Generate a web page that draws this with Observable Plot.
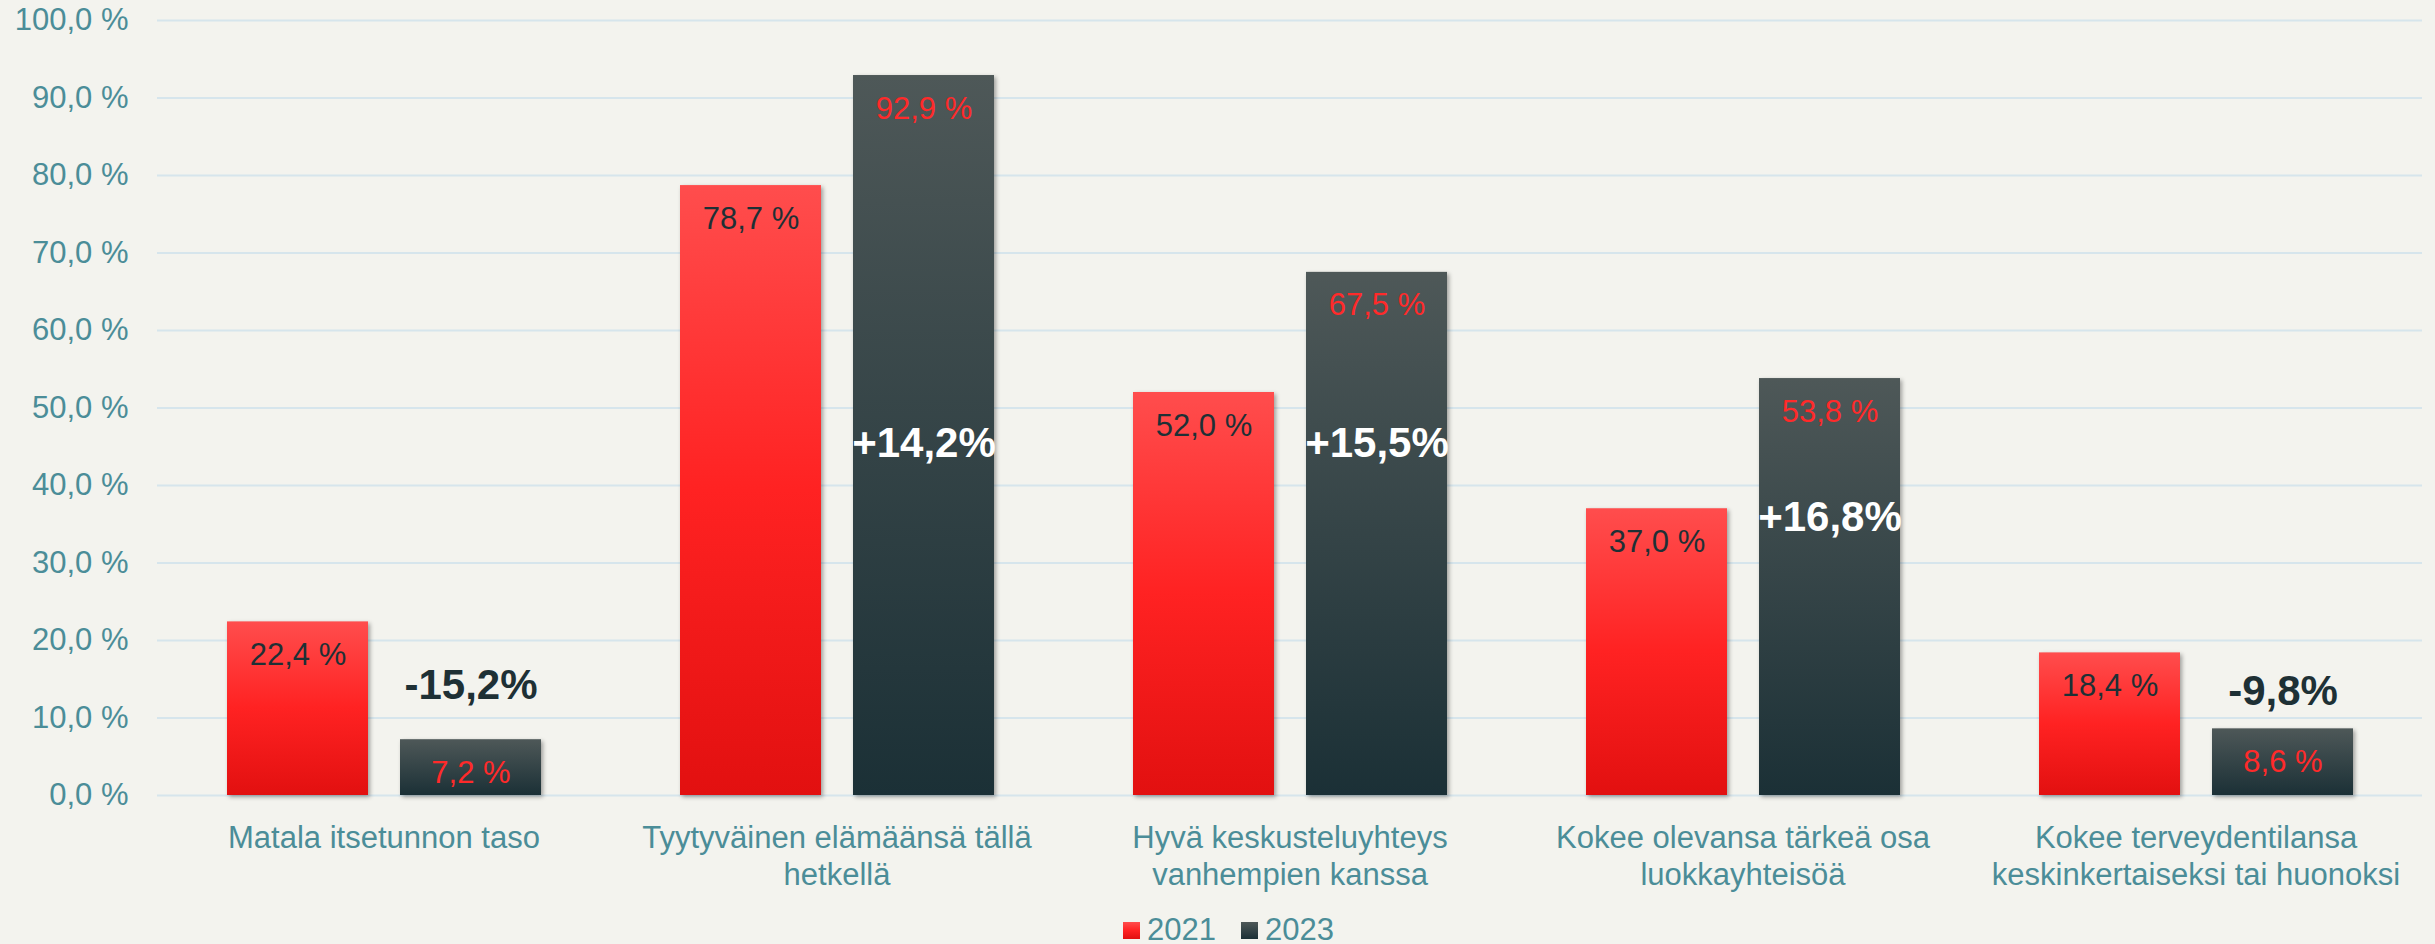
<!DOCTYPE html>
<html>
<head>
<meta charset="utf-8">
<script src="https://cdn.jsdelivr.net/npm/d3@7"></script>
<script src="https://cdn.jsdelivr.net/npm/@observablehq/plot@0.6"></script>
<style>
  html, body { margin: 0; padding: 0; background: #f3f3ee; overflow: hidden; }
  body { width: 2435px; height: 944px; position: relative; font-family: "Liberation Sans", Arial, sans-serif; }
  #chart svg { display: block; }
  #chart g[aria-label="bar"] rect { filter: drop-shadow(2px 2px 2px rgba(0,0,0,0.35)); }
  #legend { position: absolute; left: 1123px; top: 912px; display: flex; align-items: center; font-size: 31px; color: #4b8d98; white-space: nowrap; }
  #legend .sw { width: 17px; height: 17px; display: inline-block; margin-right: 7px; }
  #legend .item { display: flex; align-items: center; margin-right: 25px; }
</style>
</head>
<body>
<div id="chart"></div>
<div id="legend">
  <span class="item"><span class="sw" style="background: linear-gradient(#ff4d4d, #ff2222 50%, #e01010)"></span>2021</span>
  <span class="item"><span class="sw" style="background: linear-gradient(#4e5858, #1b3036)"></span>2023</span>
</div>
<script>
const categories = [
  "Matala itsetunnon taso",
  "Tyytyväinen elämäänsä tällä\nhetkellä",
  "Hyvä keskusteluyhteys\nvanhempien kanssa",
  "Kokee olevansa tärkeä osa\nluokkayhteisöä",
  "Kokee terveydentilansa\nkeskinkertaiseksi tai huonoksi"
];
const years = ["2021", "2023"];
const values2021 = [22.4, 78.7, 52.0, 37.0, 18.4];
const values2023 = [7.2, 92.9, 67.5, 53.8, 8.6];
const changeLabels = ["-15,2%", "+14,2%", "+15,5%", "+16,8%", "-9,8%"];
const changeLabelAt = [14.2, 45.4, 45.4, 35.9, 13.4];
const yTicks = [0, 10, 20, 30, 40, 50, 60, 70, 80, 90, 100];

const teal = "#4b8d98";
const dark = "#1e3035";
const red = "#ff2a2a";

const rows2021 = categories.map((c, i) => ({cat: c, year: years[0], value: values2021[i]}));
const rows2023 = categories.map((c, i) => ({cat: c, year: years[1], value: values2023[i]}));
const changes = categories.map((c, i) => ({cat: c, year: years[1], label: changeLabels[i], at: changeLabelAt[i]}));
const fmt = v => v.toFixed(1).replace(".", ",") + " %";

const chart = Plot.plot({
  width: 2435,
  height: 905,
  marginLeft: 157,
  marginRight: 13,
  marginTop: 20,
  marginBottom: 110,
  style: {background: "transparent", fontFamily: "'Liberation Sans', Arial, sans-serif", fontSize: "31px", overflow: "visible"},
  fx: {domain: categories, padding: 0, label: null},
  x: {domain: years, paddingInner: 0.185, paddingOuter: 0.4017, axis: null},
  y: {domain: [0, 100], label: null},
  marks: [
    Plot.ruleY(yTicks, {stroke: "#d6e5ec", strokeWidth: 2}),
    Plot.axisY({ticks: yTicks, tickFormat: fmt, tickSize: 0, tickPadding: 29, fontSize: 31, fill: teal, label: null}),
    Plot.axisFx({anchor: "bottom", tickSize: 0, tickPadding: 26, fontSize: 31, lineHeight: 1.2, fill: teal, label: null}),
    Plot.barY(rows2021, {fx: "cat", x: "year", y: "value", fill: "url(#gRed)"}),
    Plot.barY(rows2023, {fx: "cat", x: "year", y: "value", fill: "url(#gDark)"}),
    Plot.text(rows2021, {fx: "cat", x: "year", y: "value", text: d => fmt(d.value), lineAnchor: "top", dy: 21, fontSize: 31, fill: dark}),
    Plot.text(rows2023, {fx: "cat", x: "year", y: "value", text: d => fmt(d.value), lineAnchor: "top", dy: 21, fontSize: 31, fill: red}),
    Plot.text(changes.filter(d => d.label.startsWith("-")), {fx: "cat", x: "year", y: "at", text: "label", fontSize: 42, fontWeight: "bold", fill: dark}),
    Plot.text(changes.filter(d => d.label.startsWith("+")), {fx: "cat", x: "year", y: "at", text: "label", fontSize: 42, fontWeight: "bold", fill: "white"})
  ]
});

const svg = d3.select(chart.tagName.toLowerCase() === "svg" ? chart : chart.querySelector("svg"));
const defs = svg.insert("defs", ":first-child");
const gR = defs.append("linearGradient").attr("id", "gRed").attr("x1", 0).attr("y1", 0).attr("x2", 0).attr("y2", 1);
gR.append("stop").attr("offset", "0%").attr("stop-color", "#ff4d4d");
gR.append("stop").attr("offset", "50%").attr("stop-color", "#ff2222");
gR.append("stop").attr("offset", "100%").attr("stop-color", "#e21010");
const gD = defs.append("linearGradient").attr("id", "gDark").attr("x1", 0).attr("y1", 0).attr("x2", 0).attr("y2", 1);
gD.append("stop").attr("offset", "0%").attr("stop-color", "#4e5858");
gD.append("stop").attr("offset", "100%").attr("stop-color", "#1b3036");

document.getElementById("chart").appendChild(chart);
</script>
</body>
</html>
